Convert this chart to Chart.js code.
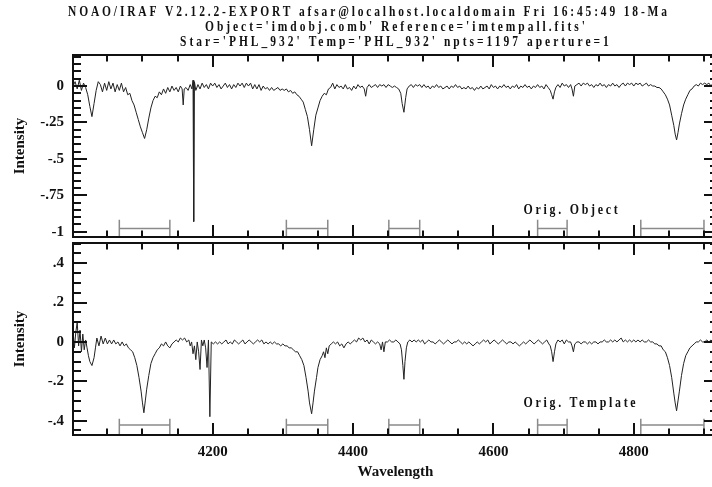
<!DOCTYPE html>
<html>
<head>
<meta charset="utf-8">
<title>fxcor spectra</title>
<script src="https://cdn.jsdelivr.net/npm/chart.js@4.4.1/dist/chart.umd.min.js"></script>
<style>
  html, body { margin: 0; padding: 0; background: #fff; overflow: hidden; }
  #wrap { position: relative; width: 712px; height: 487px; overflow: hidden; background: #fff; }
  canvas { position: absolute; left: 0; top: 0; }
</style>
</head>
<body>
<div id="wrap">
  <canvas id="objChart" width="730" height="487"></canvas>
  <canvas id="tplChart" width="730" height="487"></canvas>
</div>
<script>
// object spectrum (continuum subtracted)
const objWave = [
  4001, 4004, 4007, 4010, 4013, 4016, 4019, 4022, 4025, 4028,
  4031, 4034, 4037, 4040, 4043, 4046, 4049, 4052, 4055, 4058,
  4061, 4064, 4067, 4070, 4073, 4076, 4079, 4082, 4085, 4088,
  4091, 4094, 4097, 4100, 4103, 4106, 4109, 4112, 4115, 4118,
  4121, 4124, 4127, 4130, 4133, 4136, 4139, 4142, 4145, 4148,
  4151, 4154, 4156.5, 4158, 4159.5, 4162, 4165, 4168, 4170.5, 4172,
  4173, 4174, 4176, 4179, 4182, 4185, 4188, 4191, 4194, 4197,
  4200, 4203, 4206, 4209, 4212, 4215, 4218, 4221, 4224, 4227,
  4230, 4233, 4236, 4239, 4242, 4245, 4248, 4251, 4254, 4257,
  4260, 4263, 4266, 4269, 4272, 4275, 4278, 4281, 4284, 4287,
  4290, 4293, 4296, 4299, 4302, 4305, 4308, 4311, 4314, 4317,
  4320, 4323, 4326, 4329, 4332, 4335, 4338, 4341, 4344, 4347,
  4350, 4353, 4356, 4359, 4362, 4365, 4368, 4371, 4374, 4377,
  4380, 4383, 4386, 4389, 4392, 4395, 4398, 4401, 4404, 4407,
  4410, 4413, 4416, 4418, 4420, 4423, 4426, 4429, 4432, 4435,
  4438, 4441, 4444, 4447, 4450, 4453, 4456, 4459, 4462, 4465,
  4468, 4470, 4472.5, 4475, 4477, 4480, 4483, 4486, 4489, 4492,
  4495, 4498, 4501, 4504, 4507, 4510, 4513, 4516, 4519, 4522,
  4525, 4528, 4531, 4534, 4537, 4540, 4543, 4546, 4549, 4552,
  4555, 4558, 4561, 4564, 4567, 4570, 4573, 4576, 4579, 4582,
  4585, 4588, 4591, 4594, 4597, 4600, 4603, 4606, 4609, 4612,
  4615, 4618, 4621, 4624, 4627, 4630, 4633, 4636, 4639, 4642,
  4645, 4648, 4651, 4654, 4657, 4660, 4663, 4666, 4669, 4672,
  4675, 4678, 4681, 4683, 4685, 4687, 4689, 4692, 4695, 4698,
  4701, 4704, 4707, 4710, 4712, 4714, 4716, 4719, 4722, 4725,
  4728, 4731, 4734, 4737, 4740, 4743, 4746, 4749, 4752, 4755,
  4758, 4761, 4764, 4767, 4770, 4773, 4776, 4779, 4782, 4785,
  4788, 4791, 4794, 4797, 4800, 4803, 4806, 4809, 4812, 4815,
  4818, 4821, 4824, 4827, 4830, 4833, 4836, 4839, 4842, 4845,
  4848, 4851, 4854, 4857, 4859, 4861, 4863, 4865, 4868, 4871,
  4874, 4877, 4880, 4883, 4886, 4889, 4892, 4895, 4898, 4901,
  4904, 4907, 4910, 4913, 4916, 4919
];
const objFlux = [
  0.00, 0.03, -0.02, 0.04, -0.03, 0.02, -0.01, -0.06, -0.14, -0.21,
  -0.12, -0.03, 0.03, 0.01, -0.04, 0.02, -0.03, 0.03, -0.02, 0.02,
  -0.04, 0.01, -0.03, 0.02, -0.04, -0.01, -0.06, -0.05, -0.10, -0.13,
  -0.18, -0.23, -0.28, -0.32, -0.36, -0.30, -0.22, -0.15, -0.10, -0.07,
  -0.08, -0.04, -0.06, -0.02, -0.05, -0.01, -0.04, 0.00, -0.03, -0.01,
  -0.04, 0.00, -0.02, -0.13, -0.02, -0.01, -0.03, 0.01, -0.02, 0.04,
  -0.93, 0.03, -0.03, 0.01, -0.02, 0.02, -0.01, 0.01, -0.02, 0.02,
  0.00, 0.02, -0.01, 0.01, -0.02, 0.00, 0.02, -0.01, 0.01, -0.02,
  0.01, -0.01, 0.02, 0.00, 0.02, -0.01, 0.02, 0.00, 0.02, -0.02,
  0.01, -0.02, 0.01, -0.03, 0.00, -0.02, -0.01, -0.03, -0.01, -0.03,
  -0.02, -0.01, -0.03, -0.02, -0.03, -0.02, -0.04, -0.03, -0.05, -0.04,
  -0.06, -0.07, -0.09, -0.11, -0.16, -0.21, -0.30, -0.41, -0.30, -0.20,
  -0.15, -0.10, -0.07, -0.05, -0.06, -0.02, -0.01, 0.02, -0.02, 0.01,
  -0.01, 0.00, -0.02, 0.01, -0.02, -0.01, -0.03, 0.00, -0.02, 0.01,
  -0.01, 0.00, -0.02, -0.07, -0.01, 0.01, -0.01, 0.00, 0.01, -0.01,
  0.01, 0.00, 0.01, -0.01, 0.01, 0.00, -0.01, 0.00, -0.01, -0.02,
  -0.05, -0.12, -0.18, -0.08, -0.02, 0.00, 0.01, -0.01, 0.01, 0.00,
  0.01, -0.01, 0.01, -0.01, 0.00, -0.02, 0.00, -0.01, 0.01, -0.01,
  0.00, -0.02, -0.01, 0.00, -0.02, 0.00, -0.01, 0.01, -0.01, 0.00,
  -0.02, -0.01, -0.02, 0.00, -0.02, -0.01, -0.03, -0.01, -0.02, 0.00,
  -0.02, -0.01, 0.00, -0.02, 0.01, -0.01, 0.00, -0.02, 0.00, -0.01,
  0.01, -0.01, 0.00, -0.02, 0.00, -0.01, 0.01, -0.02, 0.00, -0.01,
  0.01, -0.01, 0.00, -0.02, 0.00, -0.01, 0.01, -0.01, 0.00, -0.02,
  0.01, -0.01, -0.03, -0.06, -0.09, -0.04, -0.01, 0.01, -0.01, 0.02,
  0.00, 0.01, -0.01, 0.01, -0.02, -0.07, 0.00, 0.01, 0.02, 0.00,
  0.02, 0.01, 0.02, 0.00, 0.01, -0.01, 0.01, 0.00, 0.02, 0.00,
  0.01, -0.01, 0.01, 0.00, 0.02, 0.00, 0.01, -0.01, 0.01, 0.02,
  0.00, 0.02, 0.01, 0.02, 0.00, 0.02, 0.01, 0.02, 0.00, 0.01,
  0.02, 0.00, 0.01, 0.00, 0.00, -0.01, -0.01, -0.02, -0.04, -0.06,
  -0.09, -0.13, -0.20, -0.27, -0.33, -0.37, -0.32, -0.26, -0.19, -0.13,
  -0.09, -0.06, -0.03, -0.02, 0.00, 0.01, 0.00, 0.02, 0.01, 0.02,
  0.01, 0.02, 0.00, 0.02, 0.01, 0.02
];

// template spectrum (continuum subtracted)
const tplWave = [
  4001, 4003, 4005, 4007, 4009, 4011, 4013, 4015, 4017, 4019,
  4021, 4023, 4025, 4028, 4031, 4033, 4035, 4038, 4041, 4044,
  4047, 4050, 4053, 4056, 4059, 4062, 4065, 4068, 4071, 4074,
  4077, 4080, 4083, 4086, 4089, 4092, 4095, 4098, 4100, 4102,
  4104, 4106, 4109, 4112, 4115, 4118, 4121, 4124, 4127, 4130,
  4133, 4136, 4139, 4142, 4145, 4148, 4151, 4154, 4157, 4160,
  4163, 4166, 4168, 4170, 4172, 4174, 4176, 4178, 4180, 4182,
  4184, 4186, 4188, 4190, 4192, 4194, 4196, 4198, 4201, 4204,
  4207, 4210, 4213, 4216, 4219, 4222, 4225, 4228, 4231, 4234,
  4237, 4240, 4243, 4246, 4249, 4252, 4255, 4258, 4261, 4264,
  4267, 4270, 4273, 4276, 4279, 4282, 4285, 4288, 4291, 4294,
  4297, 4300, 4303, 4306, 4309, 4312, 4315, 4318, 4321, 4324,
  4327, 4330, 4333, 4336, 4338, 4341, 4343, 4345, 4348, 4350,
  4353, 4356, 4358, 4360, 4362, 4364, 4366, 4369, 4372, 4375,
  4378, 4381, 4384, 4387, 4390, 4393, 4396, 4399, 4402, 4405,
  4408, 4411, 4414, 4417, 4420, 4423, 4426, 4429, 4432, 4435,
  4438, 4440, 4442, 4444, 4446, 4449, 4452, 4455, 4458, 4461,
  4464, 4467, 4469, 4471, 4472.5, 4474, 4476, 4478, 4481, 4484,
  4487, 4490, 4493, 4496, 4499, 4502, 4505, 4508, 4511, 4514,
  4517, 4520, 4523, 4526, 4529, 4532, 4535, 4538, 4541, 4544,
  4547, 4550, 4553, 4556, 4559, 4562, 4565, 4568, 4571, 4574,
  4577, 4580, 4583, 4586, 4589, 4592, 4595, 4598, 4601, 4604,
  4607, 4610, 4613, 4616, 4619, 4622, 4625, 4628, 4631, 4634,
  4637, 4640, 4643, 4646, 4649, 4652, 4655, 4658, 4661, 4664,
  4667, 4670, 4673, 4676, 4679, 4681, 4683, 4685, 4687, 4689,
  4692, 4695, 4698, 4701, 4704, 4707, 4710, 4712, 4714, 4716,
  4719, 4722, 4725, 4728, 4731, 4734, 4737, 4740, 4743, 4746,
  4749, 4752, 4755, 4758, 4761, 4764, 4767, 4770, 4773, 4776,
  4779, 4782, 4785, 4788, 4791, 4794, 4797, 4800, 4803, 4806,
  4809, 4812, 4815, 4818, 4821, 4824, 4827, 4830, 4833, 4836,
  4839, 4842, 4845, 4848, 4851, 4854, 4857, 4859, 4861, 4863,
  4865, 4868, 4871, 4874, 4877, 4880, 4883, 4886, 4889, 4892,
  4895, 4898, 4901, 4904, 4907, 4910, 4913, 4916, 4919
];
const tplFlux = [
  0.06, -0.03, 0.05, 0.10, -0.02, 0.06, -0.05, 0.04, -0.04, 0.01,
  -0.03, -0.07, -0.10, -0.12, -0.08, -0.03, 0.02, -0.02, 0.03, -0.01,
  0.02, -0.01, 0.01, -0.01, 0.01, -0.01, 0.00, -0.02, 0.00, -0.02,
  -0.01, -0.03, -0.04, -0.05, -0.08, -0.12, -0.18, -0.25, -0.31, -0.36,
  -0.30, -0.24, -0.17, -0.11, -0.08, -0.06, -0.04, -0.03, -0.01, -0.02,
  0.00, -0.02, -0.03, -0.01, 0.00, 0.01, 0.00, 0.02, 0.01, 0.02,
  0.00, 0.01, -0.02, 0.00, -0.06, -0.02, -0.09, 0.00, -0.05, -0.14,
  0.01, -0.02, 0.01, -0.03, -0.13, 0.01, -0.38, 0.00, -0.01, 0.00,
  -0.01, 0.00, -0.01, 0.00, 0.01, -0.01, 0.00, -0.01, 0.01, 0.00,
  -0.01, 0.00, 0.01, -0.01, 0.00, 0.01, 0.00, -0.01, 0.00, 0.01,
  0.00, 0.01, -0.01, 0.00, -0.01, 0.00, -0.01, 0.00, -0.01, -0.01,
  -0.02, -0.01, -0.02, -0.02, -0.03, -0.03, -0.04, -0.05, -0.05, -0.07,
  -0.09, -0.12, -0.18, -0.25, -0.31, -0.365, -0.31, -0.25, -0.18, -0.13,
  -0.09, -0.07, -0.05, -0.08, -0.03, -0.06, -0.02, -0.01, 0.00, -0.01,
  0.00, -0.02, -0.01, -0.03, -0.01, 0.00, -0.01, 0.00, 0.01, 0.00,
  0.02, 0.01, 0.02, 0.00, 0.01, -0.01, 0.01, 0.00, -0.01, 0.00,
  -0.01, -0.04, 0.00, -0.05, 0.00, 0.00, 0.01, 0.00, 0.00, 0.01,
  0.00, -0.01, -0.04, -0.12, -0.19, -0.10, -0.03, 0.00, 0.01, 0.00,
  0.01, 0.00, 0.01, 0.00, 0.01, -0.01, 0.00, 0.01, 0.00, 0.00,
  -0.01, 0.00, 0.01, 0.00, -0.01, 0.00, 0.01, 0.00, -0.01, 0.00,
  0.00, 0.01, 0.00, -0.01, 0.00, -0.01, 0.00, -0.01, -0.02, -0.01,
  0.00, -0.01, 0.00, 0.01, 0.00, 0.01, -0.01, 0.00, 0.01, 0.00,
  -0.01, 0.00, 0.01, 0.00, -0.01, 0.00, 0.00, -0.01, 0.00, -0.01,
  -0.02, -0.01, 0.00, -0.01, 0.00, 0.01, 0.00, -0.01, 0.00, 0.01,
  0.00, -0.01, 0.00, 0.01, -0.01, -0.02, -0.05, -0.10, -0.05, -0.01,
  0.01, 0.00, 0.01, -0.01, 0.01, 0.00, 0.00, -0.02, -0.05, -0.01,
  0.00, 0.00, -0.01, 0.00, 0.00, -0.01, 0.00, -0.01, 0.00, 0.00,
  -0.01, 0.00, 0.00, 0.01, 0.00, 0.00, 0.01, 0.00, 0.01, 0.00,
  0.01, 0.02, 0.00, 0.01, 0.00, 0.01, 0.00, 0.01, 0.00, 0.01,
  0.00, 0.01, 0.00, 0.00, 0.01, 0.00, 0.00, -0.01, -0.01, -0.02,
  -0.02, -0.04, -0.05, -0.08, -0.12, -0.18, -0.26, -0.31, -0.35, -0.30,
  -0.25, -0.17, -0.11, -0.07, -0.05, -0.03, -0.02, -0.01, 0.00, 0.00,
  0.01, 0.00, 0.00, 0.01, 0.00, 0.01, 0.00, 0.00, 0.01
];

// sample regions used for the correlation
const regionStart = [4067, 4305, 4451, 4663, 4810];
const regionEnd   = [4139, 4364, 4495, 4705, 4900];

const headerLines = [
  "NOAO/IRAF V2.12.2-EXPORT afsar@localhost.localdomain Fri 16:45:49 18-Ma",
  "Object='imdobj.comb' Reference='imtempall.fits'",
  "Star='PHL_932' Temp='PHL_932' npts=1197 aperture=1"
];

const WAVE_MIN = 4001;
const WAVE_MAX = 4920;
const SERIF = '"Liberation Serif", "DejaVu Serif", serif';
const INK = '#111';

// IRAF style numbers: no leading zero (-0.25 -> -.25)
function irafLabel(v) {
  const s = String(Math.round(v * 100) / 100);
  return s.replace(/^(-?)0\./, '$1.');
}

// IRAF text is a narrow monospaced font: squeeze the glyphs, then
// spread them with letter spacing until the line has the wanted width
function drawSpaced(ctx, text, x, y, width, squeeze) {
  ctx.save();
  ctx.translate(x, y);
  ctx.scale(squeeze, 1);
  ctx.letterSpacing = '0px';
  const natural = ctx.measureText(text).width;
  const gap = (width / squeeze - natural) / (text.length - 1);
  ctx.letterSpacing = gap.toFixed(2) + 'px';
  ctx.fillText(text, 0, 0);
  ctx.restore();
}

// box frame plus inward major/minor ticks on all four sides
const frameTicks = {
  id: 'frameTicks',
  afterDatasetsDraw(chart, args, opts) {
    const { ctx, chartArea: a, scales: { x, y } } = chart;
    ctx.save();
    ctx.strokeStyle = INK;
    ctx.lineWidth = 2;
    ctx.strokeRect(a.left, a.top, a.right - a.left, a.bottom - a.top);

    ctx.beginPath();
    for (let k = Math.ceil(x.min / 50); k * 50 <= x.max; k++) {
      const px = Math.round(x.getPixelForValue(k * 50));
      const len = k % 4 === 0 ? 12 : 6.5;
      ctx.moveTo(px, a.bottom); ctx.lineTo(px, a.bottom - len);
      ctx.moveTo(px, a.top); ctx.lineTo(px, a.top + len);
    }
    const step = opts.minorStep;
    for (let k = Math.ceil(y.min / step - 1e-6); k * step <= y.max + 1e-6; k++) {
      const py = Math.round(y.getPixelForValue(k * step));
      const len = Math.abs(k % opts.perMajor) === 0 ? 14 : 8;
      ctx.moveTo(a.left, py); ctx.lineTo(a.left + len, py);
      ctx.moveTo(a.right, py); ctx.lineTo(a.right - len, py);
    }
    ctx.stroke();
    ctx.restore();
  }
};

// header lines and the panel caption
const panelText = {
  id: 'panelText',
  afterDraw(chart, args, opts) {
    const { ctx, scales: { x, y } } = chart;
    ctx.save();
    ctx.fillStyle = INK;
    ctx.textBaseline = 'alphabetic';
    ctx.textAlign = 'left';
    ctx.font = 'bold 14px ' + SERIF;
    (opts.header || []).forEach(h => drawSpaced(ctx, h.text, h.x, h.y, h.width, 0.82));
    if (opts.caption) {
      const c = opts.caption;
      drawSpaced(ctx, c.text, x.getPixelForValue(c.wave), y.getPixelForValue(c.value), c.width, 0.85);
    }
    ctx.restore();
  }
};

function bracketPoints(mid, top, base) {
  const pts = [];
  regionStart.forEach((s, i) => {
    const e = regionEnd[i];
    pts.push({ x: s, y: top }, { x: s, y: base }, { x: s, y: null });
    pts.push({ x: s, y: mid }, { x: e, y: mid }, { x: e, y: null });
    pts.push({ x: e, y: top }, { x: e, y: base }, { x: e, y: null });
  });
  return pts;
}

function makePanel(canvasId, p) {
  return new Chart(document.getElementById(canvasId), {
    type: 'line',
    data: {
      datasets: [
        {
          data: p.wave.map((w, i) => ({ x: w, y: p.flux[i] })),
          borderColor: '#222',
          borderWidth: 1,
          pointRadius: 0,
          tension: 0
        },
        {
          data: bracketPoints(p.markMid, p.markTop, p.yMin),
          borderColor: '#8a8a8a',
          borderWidth: 1.5,
          pointRadius: 0,
          spanGaps: false
        }
      ]
    },
    options: {
      responsive: false,
      animation: false,
      events: [],
      layout: { padding: { top: p.padTop, bottom: p.padBottom, left: 0, right: 12 } },
      plugins: {
        legend: { display: false },
        tooltip: { enabled: false },
        frameTicks: { minorStep: 0.05, perMajor: p.perMajor },
        panelText: { header: p.header, caption: p.caption }
      },
      scales: {
        x: {
          type: 'linear',
          min: WAVE_MIN,
          max: WAVE_MAX,
          display: p.showX,
          afterFit: s => { s.height = p.showX ? 52 : 0; },
          grid: { display: false, drawTicks: false },
          border: { display: false },
          ticks: {
            stepSize: 200,
            includeBounds: false,
            autoSkip: false,
            maxRotation: 0,
            padding: 8,
            color: INK,
            font: { family: SERIF, size: 15, weight: 'bold' },
            callback: v => String(v)
          },
          title: {
            display: true,
            text: 'Wavelength',
            color: INK,
            font: { family: SERIF, size: 15, weight: 'bold' },
            padding: { top: 0, bottom: 6 }
          }
        },
        y: {
          min: p.yMin,
          max: p.yMax,
          afterFit: s => { s.width = 73; },
          grid: { display: false, drawTicks: false },
          border: { display: false },
          ticks: {
            stepSize: p.major,
            includeBounds: false,
            padding: 9,
            color: INK,
            font: { family: SERIF, size: 15, weight: 'bold' },
            callback: v => irafLabel(v)
          },
          title: {
            display: true,
            text: 'Intensity',
            color: INK,
            font: { family: SERIF, size: 15, weight: 'bold' },
            padding: { top: 11, bottom: 0 }
          }
        }
      }
    },
    plugins: [frameTicks, panelText]
  });
}

makePanel('objChart', {
  wave: objWave, flux: objFlux,
  yMin: -1.036, yMax: 0.213, major: 0.25, perMajor: 5,
  markMid: -0.977, markTop: -0.917,
  padTop: 55, padBottom: 250, showX: false,
  header: [
    { text: headerLines[0], x: 68, y: 16, width: 599 },
    { text: headerLines[1], x: 205, y: 31, width: 380 },
    { text: headerLines[2], x: 180, y: 46, width: 429 }
  ],
  caption: { text: 'Orig. Object', wave: 4643, value: -0.878, width: 94 }
});

makePanel('tplChart', {
  wave: tplWave, flux: tplFlux,
  yMin: -0.473, yMax: 0.503, major: 0.2, perMajor: 4,
  markMid: -0.422, markTop: -0.391,
  padTop: 243, padBottom: 0, showX: true,
  caption: { text: 'Orig. Template', wave: 4643, value: -0.329, width: 112 }
});
</script>
</body>
</html>
